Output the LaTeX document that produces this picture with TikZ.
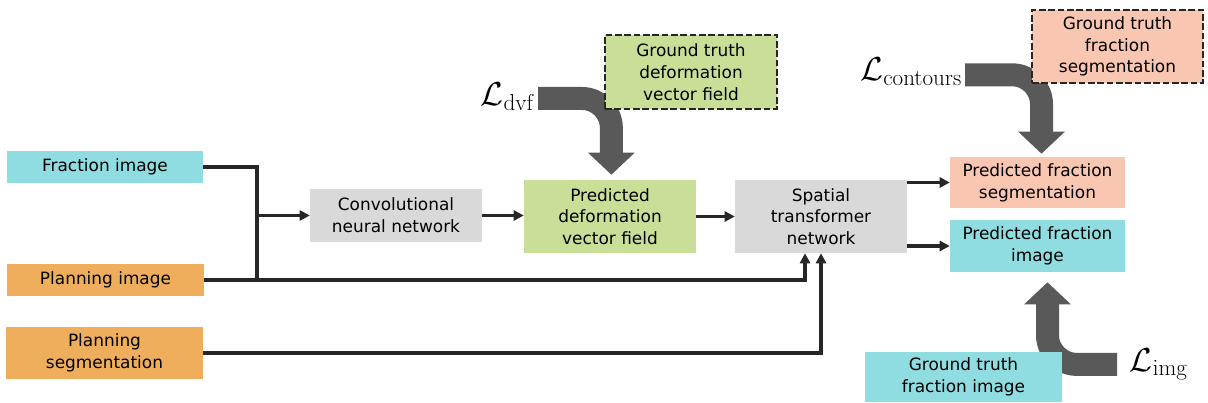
\documentclass[tikz,border=0pt]{standalone}
\usepackage[no-math]{fontspec}
\setmainfont{DejaVu Sans}
\usetikzlibrary{arrows.meta}
\definecolor{cyanbox}{HTML}{8FDDE1}
\definecolor{orangebox}{HTML}{EFAE5B}
\definecolor{greenbox}{HTML}{C9DF97}
\definecolor{salmonbox}{HTML}{F8C6B1}
\definecolor{graybox}{HTML}{D9D9D9}
\definecolor{bigarrowc}{HTML}{595959}
\definecolor{linec}{HTML}{262626}
\begin{document}
\begin{tikzpicture}[x=0.75pt,y=-0.75pt,
  box/.style 2 args={draw=none, inner sep=0pt, align=center,
    minimum width=#1*0.75pt, minimum height=#2*0.75pt,
    font=\fontsize{12.7}{16.3}\selectfont},
  gtbox/.style={draw=linec, line width=2pt, dash pattern=on 5pt off 2pt},
  conn/.style={draw=linec, line width=2.6pt, -{Triangle[length=7.5pt,width=7.5pt]}},
  plainline/.style={draw=linec, line width=2.6pt},
  bigarrow/.style={draw=bigarrowc, line width=17.25pt, rounded corners=22pt,
    -{Triangle[length=16.5pt,width=34pt]}},
  lossl/.style={inner sep=2pt, font=\fontsize{26.5}{32}\selectfont}]
\useasboundingbox (0,0) rectangle (1208,403);

% main boxes
\node[box={196}{32}, fill=cyanbox] (frac) at (105,167) {Fraction image};
\node[box={197}{32}, fill=orangebox] (plan) at (105.5,280) {Planning image};
\node[box={197}{52}, fill=orangebox] (pseg) at (104.5,353) {Planning\\segmentation};
\node[box={172}{53}, fill=graybox] (cnn) at (396,215.5) {Convolutional\\neural network};
\node[box={172}{73}, fill=greenbox] (dvf) at (610,216.5) {Predicted\\deformation\\vector field};
\node[box={172}{73}, fill=graybox] (stn) at (821,216.5) {Spatial\\transformer\\network};
\node[box={175}{51}, fill=salmonbox] (pfs) at (1037.5,182.5) {Predicted fraction\\segmentation};
\node[box={175}{52}, fill=cyanbox] (pfi) at (1037.5,246) {Predicted fraction\\image};

% loss labels
\node[lossl, anchor=base east] (ldvf) at (538,106) {$\mathcal{L}_{\mathrm{dvf}}$};
\node[lossl, anchor=base east] (lcont) at (965,81) {$\mathcal{L}_{\mathrm{contours}}$};
\node[lossl, anchor=base west] (limg) at (1127,371) {$\mathcal{L}_{\mathrm{img}}$};

% thin connectors
\coordinate (jb) at (257,280);
\draw[plainline] (frac.east) -| (jb);
\draw[conn] (jb |- cnn.west) -- (cnn.west);
\draw[conn] (plan.east) -| ([xshift=-12pt]stn.south);
\draw[conn] (pseg.east) -| (stn.south);
\draw[conn] (cnn.east) -- (cnn.east -| dvf.west);
\draw[conn] (dvf.east) -- (dvf.east -| stn.west);
\draw[conn] (stn.east |- pfs.west) -- (pfs.west);
\draw[conn] (stn.east |- pfi.west) -- (pfi.west);

% thick loss arrows
\draw[bigarrow, shorten >=3.75pt] ([yshift=-1pt]ldvf.east) -| ([xshift=1pt]dvf.north);
\draw[bigarrow, shorten >=2.25pt] ([yshift=-2pt]lcont.east) -| ([xshift=3pt]pfs.north);
\draw[bigarrow, shorten >=7.5pt] ([xshift=-7.5pt]limg.west) -| ([xshift=7.5pt]pfi.south);

% ground truth boxes (on top of arrows)
\node[box={172}{74}, fill=greenbox, gtbox] (gtdvf) at (691,72) {Ground truth\\deformation\\vector field};
\node[box={171}{73}, fill=salmonbox, gtbox] (gtfs) at (1117.5,46.5) {Ground truth\\fraction\\segmentation};
\node[box={197}{50}, fill=cyanbox] (gtfi) at (963.5,377) {Ground truth\\fraction image};
\end{tikzpicture}
\end{document}
